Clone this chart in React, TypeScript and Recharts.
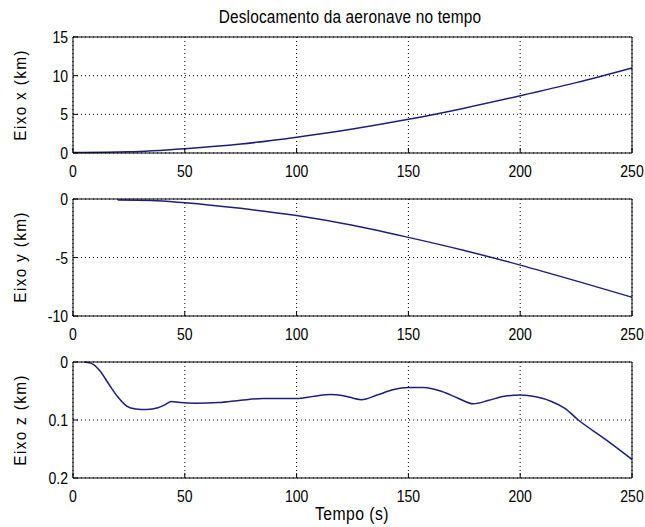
import React from 'react';
import { LineChart, Line, XAxis, YAxis, CartesianGrid } from 'recharts';

// tempo (s) e deslocamento (km)
const timeX = [0, 25, 50, 75, 100, 125, 150, 175, 200, 225, 250];
const eixoX = [0.05, 0.15, 0.55, 1.15, 2.05, 3.1, 4.35, 5.8, 7.4, 9.1, 11.0];

const timeY = [20, 35, 50, 75, 100, 125, 150, 175, 200, 225, 250];
const eixoY = [-0.08, -0.12, -0.32, -0.8, -1.42, -2.25, -3.28, -4.4, -5.65, -7.0, -8.4];

const timeZ = [5, 8, 12, 16, 20, 24, 28, 33, 38, 41, 44, 48, 55, 65, 75, 85, 100, 108, 115, 121, 129, 136, 143, 150, 157, 165, 172, 179, 186, 193, 200, 207, 214, 220, 226, 238, 250];
const eixoZ = [0, 0.002, 0.015, 0.038, 0.06, 0.076, 0.081, 0.082, 0.079, 0.074, 0.068, 0.07, 0.071, 0.07, 0.066, 0.063, 0.063, 0.059, 0.056, 0.058, 0.065, 0.057, 0.048, 0.044, 0.044, 0.051, 0.062, 0.072, 0.066, 0.059, 0.057, 0.06, 0.068, 0.08, 0.1, 0.133, 0.168];

const timeTicks = [0, 50, 100, 150, 200, 250];
const xTicks = [0, 5, 10, 15];
const yTicks = [-10, -5, 0];
const zTicks = [0, 0.1, 0.2];

const FONT = "'Liberation Sans', Arial, sans-serif";
const LINE = '#1e1e7e';

const toRows = (t: number[], v: number[]) => t.map((time, i) => ({ time, v: v[i] }));

// MATLAB draws narrow tall glyphs, so squeeze the text horizontally
function BottomTick(props: any) {
  const { x, y, payload } = props;
  return (
    <text transform={`translate(${x},${y + 24}) scale(0.85,1)`} textAnchor="middle" fontSize={16.5} fontFamily={FONT} fill="#000">
      {payload.value}
    </text>
  );
}

function LeftTick(props: any) {
  const { x, y, payload } = props;
  return (
    <text transform={`translate(${x - 5},${y + 6}) scale(0.85,1)`} textAnchor="end" fontSize={16.5} fontFamily={FONT} fill="#000">
      {payload.value}
    </text>
  );
}

type PanelProps = {
  top: number;
  plotHeight: number;
  rows: { time: number; v: number }[];
  domain: [number, number];
  ticks: number[];
  reversed?: boolean;
};

function Panel({ top, plotHeight, rows, domain, ticks, reversed }: PanelProps) {
  return (
    <div style={{ position: 'absolute', left: 0, top }}>
      <LineChart width={645} height={plotHeight + 50} data={rows} margin={{ top: 5, right: 8, bottom: 10, left: 33 }}>
        <CartesianGrid stroke="#000" strokeDasharray="1 3" horizontalValues={ticks} verticalValues={timeTicks} />
        <XAxis
          dataKey="time"
          type="number"
          domain={[0, 250]}
          ticks={timeTicks}
          tickSize={-5}
          tickMargin={5}
          height={30}
          stroke="#000"
          tick={<BottomTick />}
          interval={0}
        />
        <XAxis xAxisId="top" orientation="top" dataKey="time" type="number" domain={[0, 250]} ticks={timeTicks} tickSize={-5} height={5} stroke="#000" tick={false} />
        <YAxis
          type="number"
          domain={domain}
          ticks={ticks}
          reversed={reversed}
          tickSize={-5}
          tickMargin={5}
          width={40}
          stroke="#000"
          tick={<LeftTick />}
          interval={0}
        />
        <YAxis yAxisId="right" orientation="right" type="number" domain={domain} ticks={ticks} reversed={reversed} tickSize={-5} width={5} stroke="#000" tick={false} />
        <Line type="monotone" dataKey="v" stroke={LINE} strokeWidth={1.5} dot={false} isAnimationActive={false} />
      </LineChart>
    </div>
  );
}

const textStyle: React.CSSProperties = {
  position: 'absolute',
  fontFamily: FONT,
  color: '#000',
  whiteSpace: 'nowrap',
  lineHeight: 1,
};

function YLabel({ text, cy }: { text: string; cy: number }) {
  return (
    <div style={{ ...textStyle, left: 20, top: cy, fontSize: 17, letterSpacing: 1.5, transform: 'translate(-50%, -50%) rotate(-90deg) scale(0.9, 1)' }}>
      {text}
    </div>
  );
}

export default function App() {
  return (
    <div style={{ position: 'absolute', left: 0, top: 0, width: 645, height: 527, background: '#fff', overflow: 'hidden' }}>
      <div style={{ ...textStyle, left: 350, top: 18, fontSize: 17.5, letterSpacing: 0.2, transform: 'translate(-50%, -50%) scale(0.88, 1)' }}>
        Deslocamento da aeronave no tempo
      </div>
      <Panel top={27} plotHeight={116} rows={toRows(timeX, eixoX)} domain={[0, 15]} ticks={xTicks} />
      <Panel top={189} plotHeight={117} rows={toRows(timeY, eixoY)} domain={[-10, 0]} ticks={yTicks} />
      <Panel top={352} plotHeight={116} rows={toRows(timeZ, eixoZ)} domain={[0, 0.2]} ticks={zTicks} reversed />
      <YLabel text="Eixo x (km)" cy={95} />
      <YLabel text="Eixo y (km)" cy={257} />
      <YLabel text="Eixo z (km)" cy={420} />
      <div style={{ ...textStyle, left: 352, top: 515, fontSize: 17.5, letterSpacing: 0.5, transform: 'translate(-50%, -50%) scale(0.9, 1)' }}>
        Tempo (s)
      </div>
    </div>
  );
}
